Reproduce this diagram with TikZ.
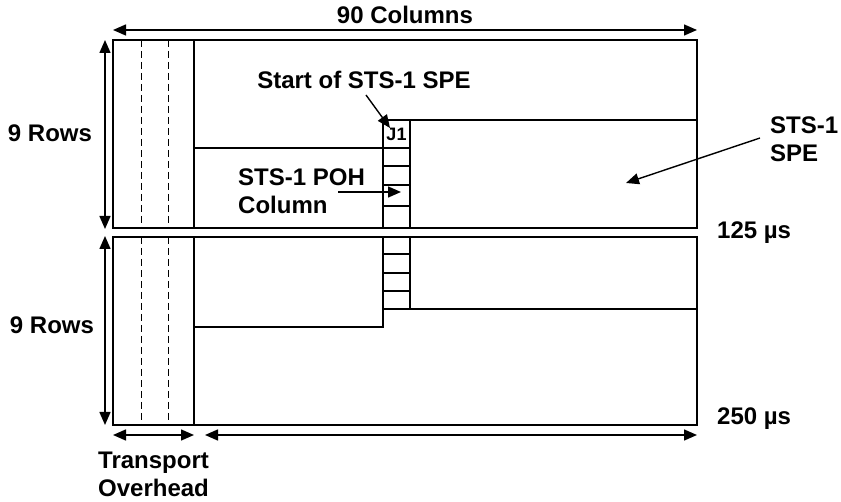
\documentclass[tikz,border=0pt]{standalone}
\usepackage{fontspec}
\setmainfont{Liberation Sans}
\usetikzlibrary{arrows.meta, positioning}
\tikzset{
  frameline/.style = {draw=black, line width=1.5pt},
  ohline/.style    = {draw=black, line width=0.9pt, dash pattern=on 7pt off 4pt},
  lbl/.style       = {inner sep=0pt, align=left,
                      font=\bfseries\fontsize{24}{28}\selectfont},
  smalllbl/.style  = {inner sep=0pt, font=\bfseries\fontsize{18}{20}\selectfont},
  dimarrow/.style  = {{Triangle[length=13pt,width=11pt]}-{Triangle[length=13pt,width=11pt]},
                      line width=1.4pt},
  ptrarrow/.style  = {-{Triangle[length=13pt,width=11pt]}, line width=1.4pt},
}
\begin{document}
\begin{tikzpicture}[x=1pt, y=-1pt]
  \useasboundingbox (0,0) rectangle (841,502);

  % Two STS-1 frames with transport overhead columns
  \foreach \ftop/\fbot in {40/228, 237/425} {
    \draw[frameline] (113,\ftop) rectangle (697,\fbot);
    \draw[frameline] (194,\ftop) -- (194,\fbot);
    \draw[ohline] (141,\ftop) -- (141,\fbot);
    \draw[ohline] (168,\ftop) -- (168,\fbot);
  }

  % First frame: SPE boundary and POH column
  \draw[frameline] (194,148) -- (383,148) -- (383,228);
  \draw[frameline] (383,148) -- (383,120) -- (697,120);
  \draw[frameline] (410,120) -- (410,228);
  \foreach \y in {148,166,185,206}
    \draw[frameline] (383,\y) -- (410,\y);

  % Second frame: rest of the SPE
  \draw[frameline] (383,237) -- (383,327) -- (194,327);
  \draw[frameline] (410,237) -- (410,309);
  \draw[frameline] (383,309) -- (697,309);
  \foreach \y in {254,273,291}
    \draw[frameline] (383,\y) -- (410,\y);

  % Labels
  \node[lbl] (cols)  at (405,15) {90 Columns};
  \node[lbl] (rows1) at (50,133) {9 Rows};
  \node[lbl] (rows2) at (52,325) {9 Rows};
  \node[lbl] (start) at (364,80) {Start of STS-1 SPE};
  \node[smalllbl] (j1) at (396.5,134) {J1};
  \node[lbl, anchor=west] (poh) at (238,191) {STS-1 POH\\Column};
  \node[lbl, anchor=west] (spe) at (770,139) {STS-1\\SPE};
  \node[lbl, anchor=west] (t125) at (717,233) {125 µs};
  \node[lbl, anchor=west] (t250) at (717,419) {250 µs};
  \node[lbl, anchor=west] (toh) at (98,474) {Transport\\Overhead};

  % Dimension arrows
  \coordinate (colsL) at (113,30);
  \coordinate (colsR) at (697,30);
  \coordinate (rows1T) at (105,40);
  \coordinate (rows1B) at (105,229);
  \coordinate (rows2T) at (105,236);
  \coordinate (rows2B) at (105,425);
  \coordinate (tohL) at (113,435);
  \coordinate (tohR) at (194,435);
  \coordinate (speL) at (205,435);
  \coordinate (speR) at (697,435);
  \draw[dimarrow] (colsL) -- (colsR);
  \draw[dimarrow] (rows1T) -- (rows1B);
  \draw[dimarrow] (rows2T) -- (rows2B);
  \draw[dimarrow] (tohL) -- (tohR);
  \draw[dimarrow] (speL) -- (speR);

  % Pointers
  \coordinate (startTail) at (366,95);
  \coordinate (startTip) at (390,128);
  \coordinate (pohTail) at (338,192);
  \coordinate (pohTip) at (401,192);
  \coordinate (speTail) at (760,138);
  \coordinate (speTip) at (626,183);
  \draw[ptrarrow] (startTail) -- (startTip);
  \draw[ptrarrow] (pohTail) -- (pohTip);
  \draw[ptrarrow] (speTail) -- (speTip);
\end{tikzpicture}
\end{document}
